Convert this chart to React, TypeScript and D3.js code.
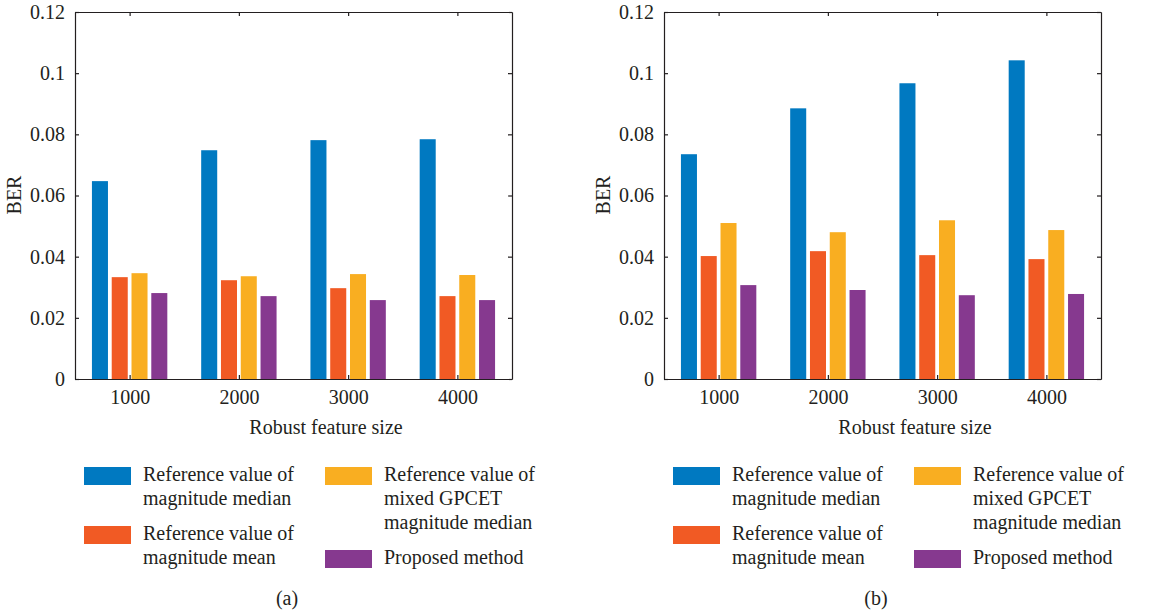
import React, { useEffect, useRef } from "react";
import * as d3 from "d3";

const featureSizes = [1000, 2000, 3000, 4000];
const xTickLabels = ["1000", "2000", "3000", "4000"];
const seriesColors = ["#0079c1", "#f15a24", "#f9ae21", "#86398f"];
const legendLines = [
  ["Reference value of", "magnitude median"],
  ["Reference value of", "magnitude mean"],
  ["Reference value of", "mixed GPCET", "magnitude median"],
  ["Proposed method"],
];

// panel (a)
const medianA = [0.0647, 0.0748, 0.0781, 0.0784];
const meanA = [0.0333, 0.0323, 0.0297, 0.0271];
const gpcetA = [0.0346, 0.0336, 0.0343, 0.034];
const proposedA = [0.0281, 0.0271, 0.0258, 0.0258];

// panel (b)
const medianB = [0.0735, 0.0885, 0.0967, 0.1042];
const meanB = [0.0402, 0.0418, 0.0405, 0.0392];
const gpcetB = [0.051, 0.048, 0.0519, 0.0487];
const proposedB = [0.0307, 0.0291, 0.0274, 0.0278];

const yTicks = [0, 0.02, 0.04, 0.06, 0.08, 0.1, 0.12];
const yTickLabels = ["0", "0.02", "0.04", "0.06", "0.08", "0.1", "0.12"];

const ink = "#231f20";
const font = "'Liberation Serif', 'DejaVu Serif', serif";
const fs = 20;

function drawPanel(svg, dx, series, tag) {
  const left = 75 + dx, right = 512 + dx, top = 12, bottom = 379;
  const g = svg.append("g");

  const x = d3.scaleLinear().domain([500, 4500]).range([left, right]);
  const y = d3.scaleLinear().domain([0, 0.12]).range([bottom, top]);
  const x1 = d3.scaleBand().domain(d3.range(series.length)).range([-345, 345]).paddingInner(0.19);

  series.forEach((vals, si) => {
    g.selectAll(null)
      .data(vals)
      .enter().append("rect")
      .attr("x", (v, i) => x(featureSizes[i] + x1(si)))
      .attr("width", (v, i) => x(featureSizes[i] + x1(si) + x1.bandwidth()) - x(featureSizes[i] + x1(si)))
      .attr("y", v => y(v))
      .attr("height", v => bottom - y(v))
      .attr("fill", seriesColors[si]);
  });

  const style = (a) => {
    a.attr("font-family", font).attr("font-size", fs);
    a.selectAll("path, line").attr("stroke", ink).attr("stroke-width", 1.2);
    a.selectAll("text").attr("fill", ink);
  };

  g.append("g").attr("transform", `translate(0,${bottom})`)
    .call(d3.axisBottom(x).tickValues(featureSizes).tickFormat((d, i) => xTickLabels[i])
      .tickSize(-4).tickSizeOuter(0).tickPadding(11))
    .call(style);
  g.append("g").attr("transform", `translate(0,${top})`)
    .call(d3.axisTop(x).tickValues(featureSizes).tickSize(-4).tickSizeOuter(0).tickFormat(() => ""))
    .call(style);
  g.append("g").attr("transform", `translate(${left},0)`)
    .call(d3.axisLeft(y).tickValues(yTicks).tickFormat((d, i) => yTickLabels[i]).tickSize(-4).tickSizeOuter(0).tickPadding(10))
    .call(style);
  g.append("g").attr("transform", `translate(${right},0)`)
    .call(d3.axisRight(y).tickValues(yTicks).tickSize(-4).tickSizeOuter(0).tickFormat(() => ""))
    .call(style);

  g.append("text")
    .attr("transform", `translate(${21 + dx},195) rotate(-90)`)
    .attr("text-anchor", "middle")
    .attr("font-family", font).attr("font-size", fs).attr("fill", ink)
    .text("BER");

  g.append("text")
    .attr("x", 326 + dx).attr("y", 434)
    .attr("text-anchor", "middle")
    .attr("font-family", font).attr("font-size", fs).attr("fill", ink)
    .text("Robust feature size");

  // legend, two columns
  const cols = [[0, 1], [2, 3]];
  cols.forEach((items, ci) => {
    let base = 481;
    const sx = (ci === 0 ? 83 : 324) + dx + 1;
    items.forEach(si => {
      g.append("rect")
        .attr("x", sx).attr("y", base - 14)
        .attr("width", 47).attr("height", 18)
        .attr("fill", seriesColors[si]);
      legendLines[si].forEach((line, li) => {
        g.append("text")
          .attr("x", sx + 59).attr("y", base + li * 24)
          .attr("font-family", font).attr("font-size", fs).attr("fill", ink)
          .text(line);
      });
      base += legendLines[si].length * 24 + 11;
    });
  });

  g.append("text")
    .attr("x", 287 + dx).attr("y", 605)
    .attr("text-anchor", "middle")
    .attr("font-family", font).attr("font-size", fs).attr("fill", ink)
    .text(tag);
}

export default function App() {
  const ref = useRef(null);

  useEffect(() => {
    const svg = d3.select(ref.current);
    svg.selectAll("*").remove();
    drawPanel(svg, 0, [medianA, meanA, gpcetA, proposedA], "(a)");
    drawPanel(svg, 589, [medianB, meanB, gpcetB, proposedB], "(b)");
  }, []);

  return (
    <svg ref={ref} width={1162} height={616}
      style={{ position: "absolute", left: 0, top: 0, background: "#fff" }} />
  );
}
